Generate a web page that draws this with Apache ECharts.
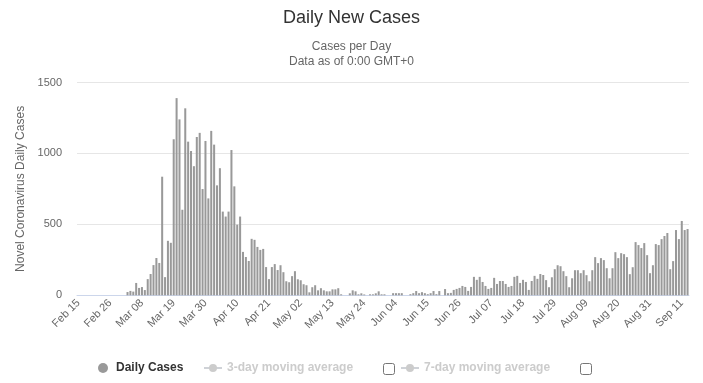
<!DOCTYPE html>
<html>
<head>
<meta charset="utf-8">
<script src="https://cdn.jsdelivr.net/npm/echarts@6/dist/echarts.min.js"></script>
<style>
  html, body { margin: 0; padding: 0; background: #fff; }
  #chart { width: 703px; height: 383px; }
</style>
</head>
<body>
<div id="chart"></div>
<script>
const categories = [
  "Feb 15","Feb 16","Feb 17","Feb 18","Feb 19","Feb 20","Feb 21","Feb 22","Feb 23","Feb 24","Feb 25","Feb 26","Feb 27","Feb 28","Feb 29",
  "Mar 01","Mar 02","Mar 03","Mar 04","Mar 05","Mar 06","Mar 07","Mar 08","Mar 09","Mar 10","Mar 11","Mar 12","Mar 13","Mar 14","Mar 15","Mar 16","Mar 17","Mar 18","Mar 19","Mar 20","Mar 21","Mar 22","Mar 23","Mar 24","Mar 25","Mar 26","Mar 27","Mar 28","Mar 29","Mar 30","Mar 31",
  "Apr 01","Apr 02","Apr 03","Apr 04","Apr 05","Apr 06","Apr 07","Apr 08","Apr 09","Apr 10","Apr 11","Apr 12","Apr 13","Apr 14","Apr 15","Apr 16","Apr 17","Apr 18","Apr 19","Apr 20","Apr 21","Apr 22","Apr 23","Apr 24","Apr 25","Apr 26","Apr 27","Apr 28","Apr 29","Apr 30",
  "May 01","May 02","May 03","May 04","May 05","May 06","May 07","May 08","May 09","May 10","May 11","May 12","May 13","May 14","May 15","May 16","May 17","May 18","May 19","May 20","May 21","May 22","May 23","May 24","May 25","May 26","May 27","May 28","May 29","May 30","May 31",
  "Jun 01","Jun 02","Jun 03","Jun 04","Jun 05","Jun 06","Jun 07","Jun 08","Jun 09","Jun 10","Jun 11","Jun 12","Jun 13","Jun 14","Jun 15","Jun 16","Jun 17","Jun 18","Jun 19","Jun 20","Jun 21","Jun 22","Jun 23","Jun 24","Jun 25","Jun 26","Jun 27","Jun 28","Jun 29","Jun 30",
  "Jul 01","Jul 02","Jul 03","Jul 04","Jul 05","Jul 06","Jul 07","Jul 08","Jul 09","Jul 10","Jul 11","Jul 12","Jul 13","Jul 14","Jul 15","Jul 16","Jul 17","Jul 18","Jul 19","Jul 20","Jul 21","Jul 22","Jul 23","Jul 24","Jul 25","Jul 26","Jul 27","Jul 28","Jul 29","Jul 30","Jul 31",
  "Aug 01","Aug 02","Aug 03","Aug 04","Aug 05","Aug 06","Aug 07","Aug 08","Aug 09","Aug 10","Aug 11","Aug 12","Aug 13","Aug 14","Aug 15","Aug 16","Aug 17","Aug 18","Aug 19","Aug 20","Aug 21","Aug 22","Aug 23","Aug 24","Aug 25","Aug 26","Aug 27","Aug 28","Aug 29","Aug 30","Aug 31",
  "Sep 01","Sep 02","Sep 03","Sep 04","Sep 05","Sep 06","Sep 07","Sep 08","Sep 09","Sep 10","Sep 11","Sep 12","Sep 13"
];

const dailyCases = [
  0,0,0,0,0,0,0,0,0,0,0,0,0,0,0,0,0,
  23,31,26,87,52,58,37,114,150,213,263,228,836,128,384,370,
  1100,1390,1240,603,1318,1083,1017,910,1116,1145,749,1088,683,1159,1062,775,896,590,555,590,1024,768,498,555,
  306,270,242,398,391,341,320,327,199,114,199,220,178,
  212,163,99,92,135,170,113,106,78,71,21,57,71,35,50,35,28,28,42,42,50,7,
  0,0,14,35,28,7,14,6,0,7,7,14,28,7,7,0,0,
  15,15,15,15,0,0,8,15,30,15,22,15,8,15,30,8,30,0,
  44,15,17,38,45,52,66,59,31,59,130,109,130,94,66,45,52,123,80,101,101,80,59,66,130,137,87,109,94,38,101,137,116,
  150,143,107,57,127,184,212,205,170,135,57,120,177,177,156,177,142,99,177,269,227,262,248,191,120,191,304,262,297,290,269,149,198,375,354,333,368,283,156,212,361,354,396,418,439,184,241,460,396,524,460,467
];

const movingAvg3 = [];
const movingAvg7 = [];

const yTicks = [0, 500, 1000, 1500];

const FONT = '"Liberation Sans", Arial, sans-serif';
const chart = echarts.init(document.getElementById('chart'), null, { renderer: 'canvas' });

const legendText = { fontFamily: FONT, fontSize: 12, fontWeight: 'bold', color: '#333333' };

const option = {
  animation: false,
  textStyle: { fontFamily: FONT },
  title: [
    {
      text: 'Daily New Cases',
      left: 'center',
      top: 4,
      textStyle: { fontFamily: FONT, fontSize: 18, fontWeight: 'normal', color: '#333333' }
    },
    {
      text: 'Cases per Day\nData as of 0:00 GMT+0',
      left: 'center',
      top: 34,
      textStyle: { fontFamily: FONT, fontSize: 12, fontWeight: 'normal', color: '#666666', lineHeight: 15 }
    }
  ],
  legend: [
    {
      data: ['Daily Cases'],
      left: 93, top: 357,
      icon: 'circle', itemWidth: 16, itemHeight: 10,
      textStyle: legendText,
      inactiveColor: '#cccccc'
    },
    {
      data: ['3-day moving average'],
      left: 198, top: 357,
      itemWidth: 18, itemHeight: 10,
      textStyle: legendText,
      inactiveColor: '#cccccc',
      selected: { '3-day moving average': false, '7-day moving average': false }
    },
    {
      data: ['7-day moving average'],
      left: 395, top: 357,
      itemWidth: 18, itemHeight: 10,
      textStyle: legendText,
      inactiveColor: '#cccccc',
      selected: { '3-day moving average': false, '7-day moving average': false }
    }
  ],
  graphic: [
    { type: 'rect', left: 383, top: 363, shape: { width: 11, height: 11, r: 2 }, style: { fill: '#ffffff', stroke: '#767676', lineWidth: 1 } },
    { type: 'rect', left: 580, top: 363, shape: { width: 11, height: 11, r: 2 }, style: { fill: '#ffffff', stroke: '#767676', lineWidth: 1 } }
  ],
  grid: { left: 77, right: 14, top: 82.5, bottom: 87.7, containLabel: false },
  xAxis: {
    type: 'category',
    data: categories,
    boundaryGap: true,
    axisLine: { show: true, lineStyle: { color: '#ccd6eb', width: 1 } },
    axisTick: { show: false },
    axisLabel: {
      interval: 10,
      rotate: 45,
      margin: 6,
      fontFamily: FONT,
      fontSize: 11,
      color: '#666666'
    },
    splitLine: { show: false }
  },
  yAxis: {
    type: 'value',
    min: yTicks[0],
    max: yTicks[yTicks.length - 1],
    interval: 500,
    name: 'Novel Coronavirus Daily Cases',
    nameLocation: 'middle',
    nameGap: 50,
    nameTextStyle: { fontFamily: FONT, fontSize: 12, color: '#666666' },
    axisLine: { show: false },
    axisTick: { show: false },
    axisLabel: {
      margin: 15, fontFamily: FONT, fontSize: 11, color: '#666666',
      formatter: function (v) { return String(v); }
    },
    splitLine: { show: true, lineStyle: { color: '#e6e6e6', width: 1 } }
  },
  series: [
    {
      name: 'Daily Cases',
      type: 'bar',
      data: dailyCases,
      barCategoryGap: '30%',
      itemStyle: { color: '#999999' },
      emphasis: { disabled: true }
    },
    {
      name: '3-day moving average',
      type: 'line',
      data: movingAvg3,
      symbol: 'circle',
      symbolSize: 7,
      itemStyle: { color: '#999999' },
      lineStyle: { color: '#999999', width: 2 }
    },
    {
      name: '7-day moving average',
      type: 'line',
      data: movingAvg7,
      symbol: 'circle',
      symbolSize: 7,
      itemStyle: { color: '#999999' },
      lineStyle: { color: '#999999', width: 2 }
    }
  ]
};

chart.setOption(option);
</script>
</body>
</html>
